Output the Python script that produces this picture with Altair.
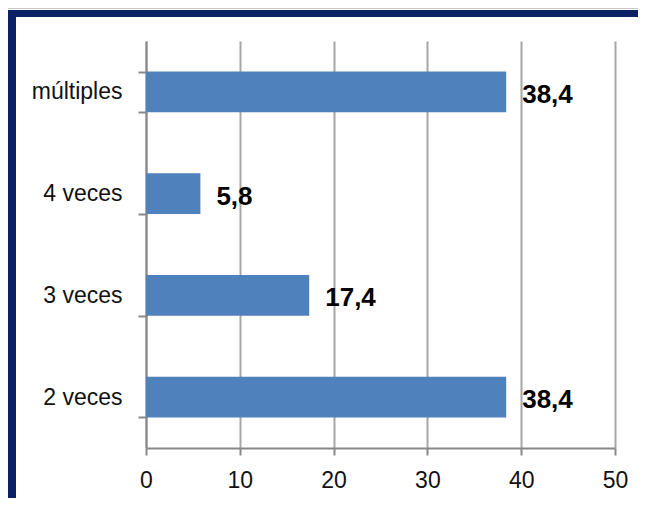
import altair as alt
import pandas as pd

categories = ["múltiples", "4 veces", "3 veces", "2 veces"]
values = [38.4, 5.8, 17.4, 38.4]
labels = ["38,4", "5,8", "17,4", "38,4"]
x_ticks = [0, 10, 20, 30, 40, 50]

df = pd.DataFrame({"cat": categories, "val": values, "lab": labels})

W, H = 469, 407
NAVY = "#0B2163"

y_enc = alt.Y("cat:N", sort=categories, title=None,
              scale=alt.Scale(paddingInner=0.6, paddingOuter=0.3),
              axis=alt.Axis(tickBand="extent", labelFontSize=23, labelColor="#111111",
                            labelFont="Liberation Sans", labelPadding=16,
                            domainColor="#888888", domainWidth=2,
                            tickColor="#888888", tickWidth=2, tickSize=8,
                            grid=False))
x_enc = alt.X("val:Q", title=None,
              scale=alt.Scale(domain=[0, 50], nice=False),
              axis=alt.Axis(values=x_ticks, labelFontSize=23, labelColor="#111111",
                            labelFont="Liberation Sans", labelPadding=14,
                            labelFlush=False,
                            domainColor="#888888", domainWidth=2,
                            tickColor="#888888", tickWidth=2, tickSize=7,
                            grid=True, gridColor="#A6A6A6", gridWidth=2))

bars = alt.Chart(df).mark_bar(color="#4F81BD").encode(x=x_enc, y=y_enc)

text = alt.Chart(df).mark_text(
    align="left", baseline="middle", dx=16, dy=3,
    font="Liberation Sans",
    fontWeight="bold", fontSize=26, color="#000000"
).encode(x="val:Q", y=alt.Y("cat:N", sort=categories), text="lab:N")

# frame decoration
frame_top = alt.Chart(df.head(1)).mark_rect(color=NAVY).encode(
    x=alt.value(-138), x2=alt.value(W + 40), y=alt.value(-31), y2=alt.value(-24))
frame_left = alt.Chart(df.head(1)).mark_rect(color=NAVY, cornerRadiusTopLeft=4).encode(
    x=alt.value(-138), x2=alt.value(-130), y=alt.value(-31), y2=alt.value(H + 70))
line_top = alt.Chart(df.head(1)).mark_rule(color="#C8C8C8", strokeWidth=1).encode(
    x=alt.value(-138), x2=alt.value(W + 40), y=alt.value(-32.5))

chart = alt.layer(bars, text, frame_top, frame_left, line_top).properties(
    width=W, height=H,
    autosize=alt.AutoSizeParams(type="none"),
    padding={"left": 138, "top": 33, "right": 23, "bottom": 50},
    background="white"
).configure_view(stroke=None)

chart.save("out.html", embed_options={"renderer": "svg", "actions": False})
